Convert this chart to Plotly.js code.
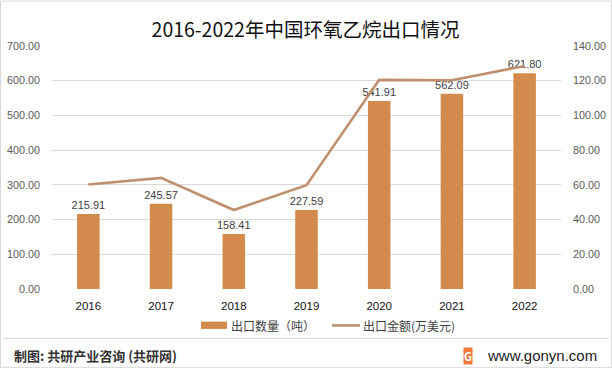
<!DOCTYPE html>
<html><head><meta charset="utf-8">
<script src="https://cdn.plot.ly/plotly-3.0.1.min.js"></script>
<style>body{margin:0;padding:0;background:#fff}#c{width:612px;height:368px}</style>
</head><body><div id="c"></div>
<script>
const years = ['2016','2017','2018','2019','2020','2021','2022'];
const exportVolume = [215.91, 245.57, 158.41, 227.59, 541.91, 562.09, 621.80];
const exportValue = [60.2, 64.0, 45.5, 59.8, 120.5, 120.3, 128.5];
const leftTicks = [0,100,200,300,400,500,600,700];
const rightTicks = [0,20,40,60,80,100,120,140];
const seriesNames = ['出口数量（吨）','出口金额(万美元)'];

const PL=52, PR=561, PT=45.5, PB=289;
const px = x => (x-PL)/(PR-PL);
const py = y => (PB-y)/(PB-PT);
const font = "'Microsoft YaHei','Noto Sans CJK SC','DejaVu Sans',sans-serif";
const latin = "'Liberation Sans','DejaVu Sans',sans-serif";
const barColor = '#D38B4D', lineColor = '#C0906E';

const traces = [
  {type:'bar', x:years, y:exportVolume, name:seriesNames[0], marker:{color:barColor},
   width:0.31, text:exportVolume.map(v=>v.toFixed(2)), textposition:'outside', cliponaxis:false,
   constraintext:'none',
   textfont:{size:11,color:'#404040',family:latin}, hoverinfo:'none'},
  {type:'scatter', mode:'lines', x:years, y:exportValue, yaxis:'y2', name:seriesNames[1],
   line:{color:lineColor,width:2.6}, hoverinfo:'none'}
];

const layout = {
  width:612, height:368, margin:{l:PL,r:612-PR,t:PT,b:368-PB},
  paper_bgcolor:'#fff', plot_bgcolor:'#fff', showlegend:false,
  font:{family:font,color:'#404040'},
  title:{text:'2016-2022年中国环氧乙烷出口情况', x:305.5/612, xanchor:'center', y:1-30.5/368, yanchor:'middle',
    font:{size:19.5,color:'#111',family:font}},
  xaxis:{type:'category', tickfont:{size:11.5,color:'#111',family:latin}, showline:false, ticks:'',
    showgrid:false, zeroline:false, fixedrange:true, ticklabelstandoff:8},
  yaxis:{range:[0,700], tickvals:leftTicks, ticktext:leftTicks.map(v=>v.toFixed(2)),
    tickfont:{size:10.8,color:'#595959',family:latin}, gridcolor:'#D9D9D9', gridwidth:1,
    zeroline:false, showline:false, ticks:'', ticklabelstandoff:11},
  yaxis2:{range:[0,140], overlaying:'y', side:'right', tickvals:rightTicks, ticktext:rightTicks.map(v=>v.toFixed(2)),
    tickfont:{size:10.8,color:'#595959',family:latin}, showgrid:false, zeroline:false, showline:false, ticks:'',
    ticklabelstandoff:11},
  shapes:[
    {type:'rect', xref:'paper', yref:'paper', x0:px(0.5), x1:px(611.5), y0:py(0.5), y1:py(367.5),
      line:{color:'#D9D9D9',width:1}, fillcolor:'rgba(0,0,0,0)'},
    {type:'line', xref:'paper', yref:'paper', x0:px(3), x1:px(609), y0:py(338.5), y1:py(338.5),
      line:{color:'#D9D9D9',width:1}},
    {type:'rect', xref:'paper', yref:'paper', x0:px(201), x1:px(227), y0:py(321.7), y1:py(329),
      line:{width:0}, fillcolor:barColor},
    {type:'line', xref:'paper', yref:'paper', x0:px(332), x1:px(360), y0:py(325.5), y1:py(325.5),
      line:{color:lineColor,width:2.6}}
  ],
  annotations:[
    {xref:'paper', yref:'paper', x:px(229), y:py(326), xanchor:'left', yanchor:'middle', showarrow:false,
      text:seriesNames[0], font:{size:12,color:'#404040',family:font}},
    {xref:'paper', yref:'paper', x:px(361), y:py(326), xanchor:'left', yanchor:'middle', showarrow:false,
      text:seriesNames[1], font:{size:12,color:'#404040',family:font}},
    {xref:'paper', yref:'paper', x:px(12), y:py(356), xanchor:'left', yanchor:'middle', showarrow:false,
      text:'<b>制图: 共研产业咨询 (共研网)</b>', font:{size:13,color:'#333',family:font}},
    {xref:'paper', yref:'paper', x:px(467.5), y:py(356), xanchor:'center', yanchor:'middle', showarrow:false,
      text:'<b>G</b>', bgcolor:'#EE7B3A', borderpad:0, font:{size:11,color:'#fff',family:font}},
    {xref:'paper', yref:'paper', x:px(485), y:py(356), xanchor:'left', yanchor:'middle', showarrow:false,
      text:'www.gonyn.com', font:{size:15,color:'#222',family:latin}}
  ]
};
Plotly.newPlot('c', traces, layout, {displayModeBar:false, staticPlot:true});
</script></body></html>
